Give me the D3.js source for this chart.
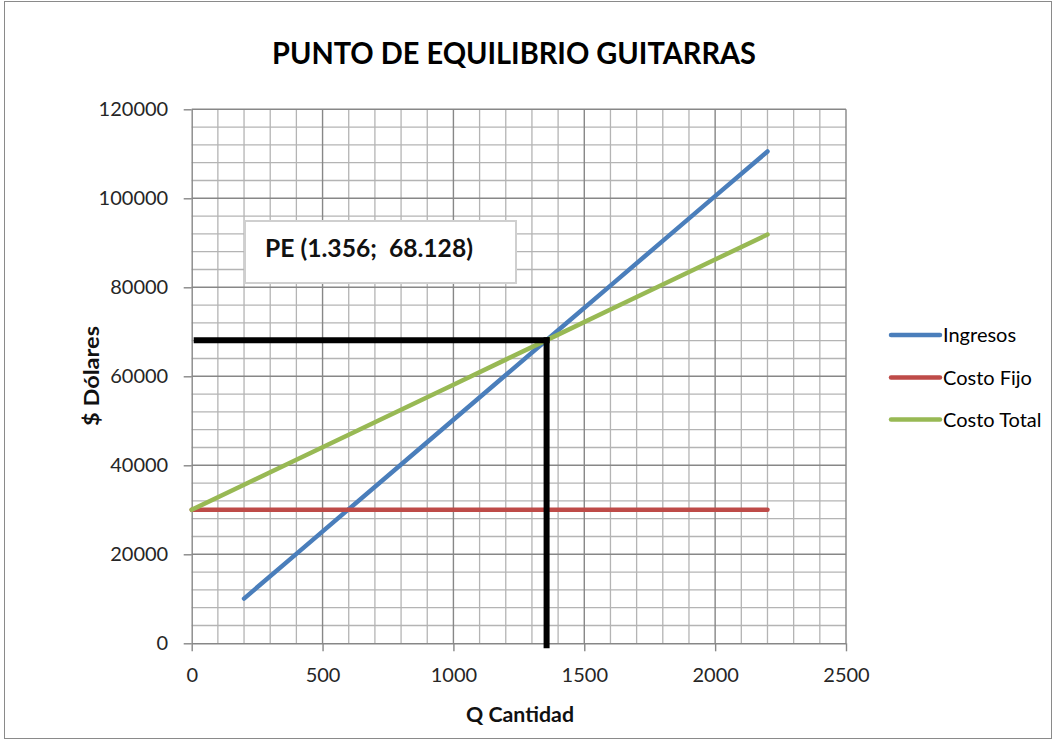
<!DOCTYPE html>
<html>
<head>
<meta charset="utf-8">
<script src="https://cdn.jsdelivr.net/npm/d3@7"></script>
<style>
  html, body { margin: 0; padding: 0; background: #ffffff; }
  svg { display: block; }
  text { font-family: Lato, "Open Sans", "Liberation Sans", sans-serif; }
</style>
</head>
<body>
<svg id="chart" width="1057" height="742"></svg>
<script>
// Break-even data: quantity sold vs. dollars
const cantidad   = [0, 200, 400, 600, 800, 1000, 1200, 1400, 1600, 1800, 2000, 2200];
const ingresos   = [null, 10048, 20096, 30144, 40192, 50240, 60288, 70336, 80384, 90432, 100480, 110528];
const costoFijo  = [30000, 30000, 30000, 30000, 30000, 30000, 30000, 30000, 30000, 30000, 30000, 30000];
const costoTotal = [30000, 35624, 41248, 46872, 52496, 58120, 63744, 69368, 74992, 80616, 86240, 91864];

// Break-even point
const peCantidad = 1356;
const peDolares  = 68128;
const peLabel    = "PE (1.356;  68.128)";

const seriesNames  = ["Ingresos", "Costo Fijo", "Costo Total"];
const seriesColors = ["#4a7ebb", "#be4b48", "#98b954"];

const xTicks = [0, 500, 1000, 1500, 2000, 2500];
const yTicks = [0, 20000, 40000, 60000, 80000, 100000, 120000];

const titleText = "PUNTO DE EQUILIBRIO GUITARRAS";
const xTitle = "Q Cantidad";
const yTitle = "$ Dólares";

const svg = d3.select("#chart");

// outer chart frame
svg.append("rect")
  .attr("x", 4.5).attr("y", 1.5)
  .attr("width", 1047).attr("height", 737)
  .attr("fill", "#ffffff")
  .attr("stroke", "#8a8a8a").attr("stroke-width", 1);

const x = d3.scaleLinear().domain([0, 2500]).range([191.7, 846]);
const y = d3.scaleLinear().domain([0, 120000]).range([643.3, 109.3]);

// grid: minor then major
const grid = svg.append("g");
const xMinor = d3.range(100, 2501, 100).filter(v => v % 500 !== 0);
const yMinor = d3.range(4000, 120001, 4000).filter(v => v % 20000 !== 0);
grid.selectAll("line.xm").data(xMinor).join("line")
  .attr("x1", d => x(d)).attr("x2", d => x(d))
  .attr("y1", y(0)).attr("y2", y(120000))
  .attr("stroke", "#b4b4b4").attr("stroke-width", 1.3);
grid.selectAll("line.ym").data(yMinor).join("line")
  .attr("x1", x(0)).attr("x2", x(2500))
  .attr("y1", d => y(d)).attr("y2", d => y(d))
  .attr("stroke", "#b4b4b4").attr("stroke-width", 1.3);
grid.selectAll("line.xM").data(xTicks.slice(1)).join("line")
  .attr("x1", d => x(d)).attr("x2", d => x(d))
  .attr("y1", y(0)).attr("y2", y(120000))
  .attr("stroke", "#878787").attr("stroke-width", 1.4);
grid.selectAll("line.yM").data(yTicks.slice(1)).join("line")
  .attr("x1", x(0)).attr("x2", x(2500))
  .attr("y1", d => y(d)).attr("y2", d => y(d))
  .attr("stroke", "#878787").attr("stroke-width", 1.4);

// axes
const xAxis = svg.append("g")
  .attr("transform", `translate(0,${y(0)})`)
  .call(d3.axisBottom(x).tickValues(xTicks).tickFormat(d3.format("d"))
        .tickSize(8).tickPadding(17).tickSizeOuter(0));
const yAxis = svg.append("g")
  .attr("transform", `translate(${x(0)},0)`)
  .call(d3.axisLeft(y).tickValues(yTicks).tickFormat(d3.format("d"))
        .tickSize(8).tickPadding(15.5).tickSizeOuter(0));
[xAxis, yAxis].forEach(g => {
  g.select(".domain").attr("stroke", "#878787").attr("stroke-width", 1.4);
  g.selectAll(".tick line").attr("stroke", "#878787").attr("stroke-width", 1.4);
  g.selectAll(".tick text")
    .attr("font-family", "Lato, 'Open Sans', sans-serif")
    .attr("font-size", 20).attr("fill", "#262626");
});

// series lines
const seriesData = [ingresos, costoFijo, costoTotal];
const line = d3.line()
  .defined(d => d[1] !== null)
  .x(d => x(d[0])).y(d => y(d[1]));
seriesData.forEach((vals, i) => {
  const pts = cantidad.map((q, j) => [q, vals[j]]);
  svg.append("path")
    .datum(pts)
    .attr("d", line)
    .attr("fill", "none")
    .attr("stroke", seriesColors[i])
    .attr("stroke-width", 4.5)
    .attr("stroke-linecap", "round")
    .attr("stroke-linejoin", "round");
});

// break-even guide lines
svg.append("line")
  .attr("x1", x(0) + 2).attr("x2", x(peCantidad) + 3)
  .attr("y1", y(peDolares)).attr("y2", y(peDolares))
  .attr("stroke", "#000").attr("stroke-width", 6);
svg.append("line")
  .attr("x1", x(peCantidad)).attr("x2", x(peCantidad))
  .attr("y1", y(peDolares) - 3).attr("y2", y(0) + 5)
  .attr("stroke", "#000").attr("stroke-width", 6);

// break-even label box
svg.append("rect")
  .attr("x", 245).attr("y", 221)
  .attr("width", 271).attr("height", 62)
  .attr("fill", "#ffffff")
  .attr("stroke", "#cfcfcf").attr("stroke-width", 2);
svg.append("text")
  .attr("x", 265).attr("y", 257)
  .attr("font-size", 24).attr("font-weight", "bold").attr("fill", "#111")
  .attr("textLength", 208).attr("lengthAdjust", "spacingAndGlyphs")
  .attr("xml:space", "preserve")
  .style("white-space", "pre")
  .text(peLabel);

// title
svg.append("text")
  .attr("x", 514).attr("y", 64)
  .attr("text-anchor", "middle")
  .attr("font-size", 30).attr("font-weight", "bold").attr("fill", "#000")
  .attr("textLength", 484).attr("lengthAdjust", "spacingAndGlyphs")
  .text(titleText);

// axis titles
svg.append("text")
  .attr("x", 520).attr("y", 722)
  .attr("text-anchor", "middle")
  .attr("font-size", 20).attr("font-weight", "bold").attr("fill", "#111")
  .attr("textLength", 108).attr("lengthAdjust", "spacingAndGlyphs")
  .text(xTitle);
svg.append("text")
  .attr("transform", "translate(99,376) rotate(-90)")
  .attr("text-anchor", "middle")
  .attr("font-size", 20).attr("font-weight", "bold").attr("fill", "#111")
  .attr("textLength", 100).attr("lengthAdjust", "spacingAndGlyphs")
  .text(yTitle);

// legend
const legendY = [335, 377.5, 419.5];
const legend = svg.append("g");
seriesNames.forEach((name, i) => {
  legend.append("line")
    .attr("x1", 891).attr("x2", 940)
    .attr("y1", legendY[i]).attr("y2", legendY[i])
    .attr("stroke", seriesColors[i]).attr("stroke-width", 4.5)
    .attr("stroke-linecap", "round");
  legend.append("text")
    .attr("x", 943).attr("y", legendY[i])
    .attr("dy", "0.35em")
    .attr("font-size", 20).attr("fill", "#000")
    .text(name);
});
</script>
</body>
</html>
